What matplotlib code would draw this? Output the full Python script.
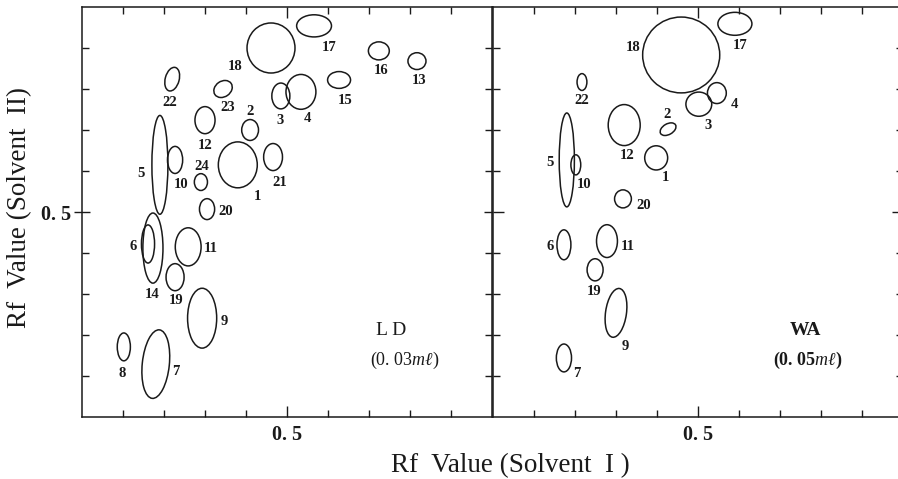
import matplotlib.pyplot as plt
from matplotlib.patches import Ellipse

plt.rcParams['font.family'] = ['Liberation Serif', 'DejaVu Serif']
plt.rcParams['mathtext.fontset'] = 'custom'
plt.rcParams['mathtext.it'] = 'Liberation Serif:italic'
plt.rcParams['mathtext.rm'] = 'Liberation Serif'

# spot data: Rf (solvent I), Rf (solvent II), spot width / height, tilt, label position
ld_ids = ["1", "2", "3", "4", "5", "6", "7", "8", "9", "10", "11", "12",
          "13", "14", "15", "16", "17", "18", "19", "20", "21", "22", "23", "24"]
ld_x = [0.380, 0.410, 0.485, 0.534, 0.190, 0.161, 0.180, 0.102, 0.293, 0.227, 0.259, 0.300,
        0.817, 0.173, 0.627, 0.724, 0.566, 0.461, 0.227, 0.305, 0.466, 0.220, 0.344, 0.290]
ld_y = [0.615, 0.700, 0.783, 0.793, 0.615, 0.422, 0.129, 0.171, 0.241, 0.627, 0.415, 0.724,
        0.868, 0.412, 0.822, 0.893, 0.954, 0.900, 0.341, 0.507, 0.634, 0.824, 0.800, 0.573]
ld_w = [0.095, 0.041, 0.044, 0.073, 0.039, 0.032, 0.066, 0.032, 0.071, 0.037, 0.063, 0.049,
        0.044, 0.049, 0.056, 0.051, 0.085, 0.117, 0.044, 0.037, 0.046, 0.034, 0.048, 0.032]
ld_h = [0.112, 0.051, 0.063, 0.085, 0.241, 0.093, 0.168, 0.068, 0.146, 0.066, 0.093, 0.066,
        0.041, 0.171, 0.041, 0.044, 0.054, 0.122, 0.066, 0.051, 0.066, 0.059, 0.038, 0.041]
ld_ang = [0, 0, 0, 0, 0, 0, -6, 0, 0, 0, 0, 0,
          0, 0, 0, 0, 0, 0, 0, 0, 0, -15, 35, 0]
ld_lx = [0.427, 0.410, 0.483, 0.549, 0.144, 0.124, 0.229, 0.098, 0.346, 0.241, 0.315, 0.300,
         0.822, 0.171, 0.641, 0.729, 0.602, 0.373, 0.229, 0.351, 0.483, 0.215, 0.356, 0.293]
ld_ly = [0.539, 0.744, 0.724, 0.729, 0.593, 0.417, 0.112, 0.107, 0.232, 0.568, 0.410, 0.663,
         0.820, 0.300, 0.773, 0.846, 0.902, 0.854, 0.283, 0.502, 0.573, 0.766, 0.756, 0.612]

wa_ids = ["1", "2", "3", "4", "5", "6", "7", "9", "10", "11", "12", "17", "18", "19", "20", "22"]
wa_x = [0.398, 0.427, 0.502, 0.546, 0.180, 0.173, 0.173, 0.300, 0.202, 0.278, 0.320, 0.590,
        0.459, 0.249, 0.317, 0.217]
wa_y = [0.632, 0.702, 0.763, 0.790, 0.627, 0.420, 0.144, 0.254, 0.615, 0.429, 0.712, 0.959,
        0.883, 0.359, 0.532, 0.817]
wa_w = [0.056, 0.042, 0.063, 0.046, 0.037, 0.034, 0.037, 0.051, 0.024, 0.051, 0.078, 0.083,
        0.188, 0.039, 0.041, 0.024]
wa_h = [0.059, 0.026, 0.059, 0.051, 0.229, 0.073, 0.068, 0.120, 0.049, 0.080, 0.100, 0.056,
        0.185, 0.054, 0.044, 0.041]
wa_ang = [0, 30, 0, 0, 0, 0, 0, -8, 0, 0, 0, 0, 0, 0, 0, 0]
wa_lx = [0.420, 0.424, 0.524, 0.590, 0.139, 0.139, 0.205, 0.322, 0.222, 0.329, 0.327, 0.602,
         0.341, 0.246, 0.368, 0.217]
wa_ly = [0.583, 0.737, 0.710, 0.761, 0.620, 0.415, 0.107, 0.171, 0.568, 0.417, 0.639, 0.905,
         0.902, 0.305, 0.515, 0.771]

minor_ticks = [0.1, 0.2, 0.3, 0.4, 0.6, 0.7, 0.8, 0.9]
ink = '#1a1a1a'

fig = plt.figure(figsize=(8.98, 4.79), dpi=100)
ax1 = fig.add_axes([82 / 898, 62 / 479, 410 / 898, 410 / 479])
ax2 = fig.add_axes([493 / 898, 62 / 479, 410 / 898, 410 / 479])


def draw_panel(ax, ids, xs, ys, ws, hs, angs, lxs, lys, show_ylabel):
    for i in range(len(ids)):
        ax.add_patch(Ellipse((xs[i], ys[i]), ws[i], hs[i], angle=angs[i],
                             fill=False, edgecolor=ink, lw=1.1))
        ax.text(lxs[i], lys[i], ids[i], ha='center', va='center',
                fontsize=10.5, color=ink, weight='bold')
    ax.set_xlim(0, 1)
    ax.set_ylim(0, 1)
    ax.set_xticks([0.5])
    ax.set_yticks([0.5])
    ax.set_xticks(minor_ticks, minor=True)
    ax.set_yticks(minor_ticks, minor=True)
    ax.set_xticklabels(['0. 5'], fontsize=14.5, weight='bold', color=ink)
    ax.set_yticklabels(['0. 5'] if show_ylabel else [''], fontsize=14.5,
                       weight='bold', color=ink)
    ax.tick_params(which='both', direction='in', top=True, right=True,
                   color=ink, width=1.0)
    ax.tick_params(which='major', length=8, pad=6)
    ax.tick_params(which='minor', length=5)
    if show_ylabel:
        ax.tick_params(axis='y', which='major', direction='inout', length=12, pad=2)
    for s in ax.spines.values():
        s.set_linewidth(1.1)
        s.set_color(ink)


draw_panel(ax1, ld_ids, ld_x, ld_y, ld_w, ld_h, ld_ang, ld_lx, ld_ly, True)
draw_panel(ax2, wa_ids, wa_x, wa_y, wa_w, wa_h, wa_ang, wa_lx, wa_ly, False)

ax1.text(0.754, 0.210, 'L D', ha='center', va='center', fontsize=14, color=ink)
ax1.text(0.787, 0.137, r'(0. 03$\mathit{m\ell}$)', ha='center', va='center',
         fontsize=13, color=ink)
ax2.text(0.763, 0.212, 'WA', ha='center', va='center', fontsize=14,
         weight='bold', color=ink)
ax2.text(0.768, 0.139, r'(0. 05$\mathit{m\ell}$)', ha='center', va='center',
         fontsize=13, weight='bold', color=ink)

fig.text(510 / 898, 1 - 466 / 479, 'Rf  Value (Solvent  I )', ha='center',
         va='center', fontsize=19.5, color=ink)
fig.text(20 / 898, 1 - 207 / 479, 'Rf  Value (Solvent  II)', ha='center',
         va='center', fontsize=19.5, rotation=90, color=ink)

fig.savefig('out.png', dpi=100)
